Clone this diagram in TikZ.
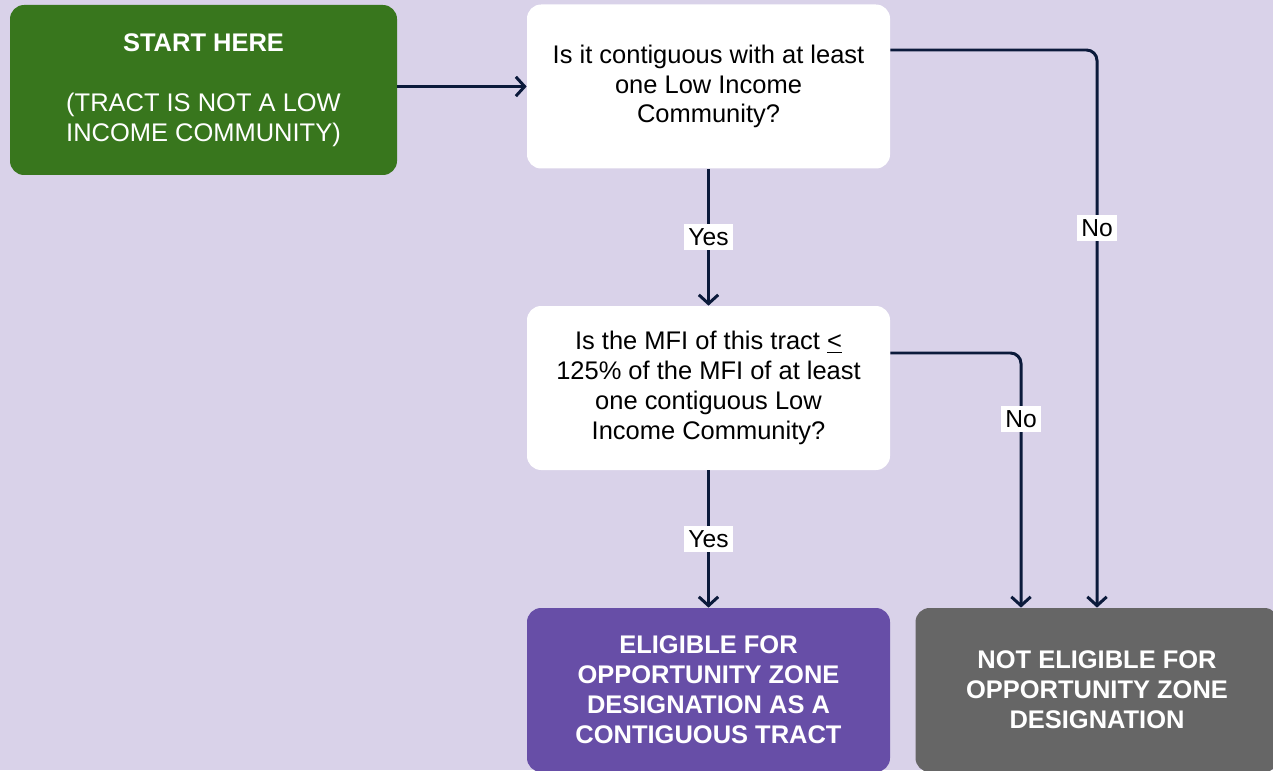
\documentclass[tikz,border=0pt]{standalone}
\usepackage{fontspec}
\setmainfont{Liberation Sans}
\usetikzlibrary{arrows.meta}
\definecolor{bgpurple}{HTML}{D9D2E9}
\definecolor{startgreen}{HTML}{38761D}
\definecolor{eligpurple}{HTML}{674EA7}
\definecolor{notgray}{HTML}{666666}
\definecolor{linenavy}{HTML}{0B1A3B}
\begin{document}
\begin{tikzpicture}[x=0.02cm, y=-0.02cm,
		box/.style={rounded corners=8pt, minimum width=363*0.02cm, minimum height=164*0.02cm, align=center, font=\fontsize{14.5}{17}\selectfont, inner sep=0pt},
		question/.style={box, fill=white, text=black},
		result/.style={box, text=white, font=\fontsize{14.5}{17}\selectfont\bfseries},
		flow/.style={draw=linenavy, line width=1.7pt, rounded corners=6pt, -{Straight Barb[length=5pt, width=11pt, line width=1.7pt]}},
		answer/.style={sharp corners, fill=white, text=black, font=\fontsize{14}{14}\selectfont, inner sep=2.5pt}]
				\fill[bgpurple] (0,0) rectangle (1273,770);
				\useasboundingbox (0,0) rectangle (1273,770);
				\node[box, fill=startgreen, text=white, minimum width=387*0.02cm, minimum height=170*0.02cm] (start) at (203.5,90) {\textbf{START HERE}\\ \\(TRACT IS NOT A LOW\\INCOME COMMUNITY)};
				\node[question] (contig) at (708.5,86.5) {Is it contiguous with at least\\one Low Income\\Community?};
				\node[question] (mfi) at (708.5,388) {Is the MFI of this tract \underline{<}\\125\% of the MFI of at least\\one contiguous Low\\Income Community?};
				\node[result, fill=eligpurple] (elig) at (708.5,690) {ELIGIBLE FOR\\OPPORTUNITY ZONE\\DESIGNATION AS A\\CONTIGUOUS TRACT};
				\node[result, fill=notgray] (notelig) at (1097,690) {NOT ELIGIBLE FOR\\OPPORTUNITY ZONE\\DESIGNATION};
				\coordinate (bendA) at (1097,50);
				\coordinate (bendB) at (1021,353);
				\draw[flow] (start.east |- contig.west) -- (contig.west);
				\draw[flow] (contig.south) -- node[answer] {Yes} (mfi.north);
				\draw[flow] (mfi.south) -- node[answer] {Yes} (elig.north);
				\draw[flow] (contig.east |- bendA) -- (bendA) -- node[answer, pos=0.32] {No} (notelig.north -| bendA);
				\draw[flow] (mfi.east |- bendB) -- (bendB) -- node[answer, pos=0.26] {No} (notelig.north -| bendB);
			\end{tikzpicture}
\end{document}
